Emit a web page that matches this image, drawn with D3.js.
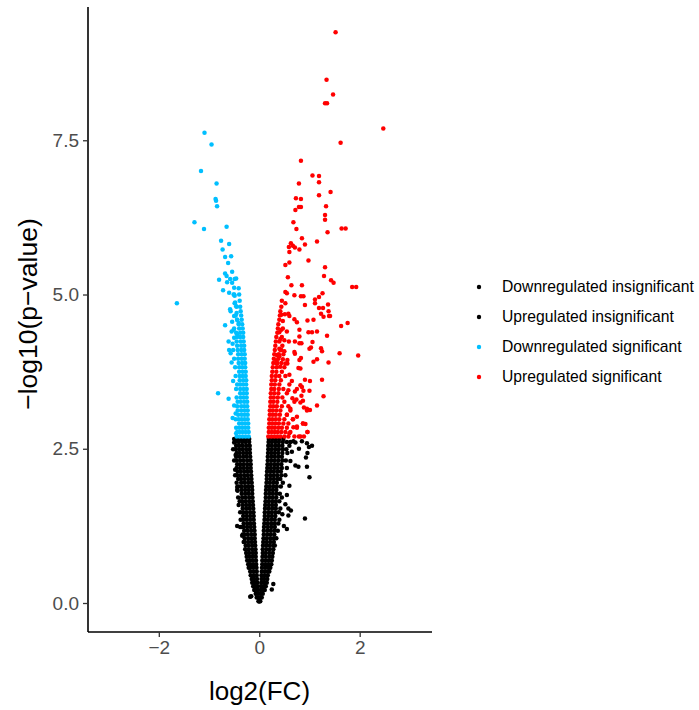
<!DOCTYPE html>
<html><head><meta charset="utf-8">
<script src="https://cdn.jsdelivr.net/npm/d3@7"></script>
<style>body{margin:0;background:#fff}svg{display:block}text{font-family:"Liberation Sans",Arial,sans-serif}</style>
</head><body><svg id="c" width="699" height="710"></svg>
<script>
const categories = ["Downregulated insignificant","Upregulated insignificant","Downregulated significant","Upregulated significant"];
const colors = ["#000000","#000000","#00BFFF","#FF0000"];
const xTicks = [-2,0,2];
const yTicks = [0,2.5,5,7.5];

// rows: [y, [x...]]
const downInsigRows = [
[0.03,[-0.015,-0.005]],[0.09,[-0.02,-0.05]],[0.15,[-0.025,-0.07]],[0.21,[-0.03,-0.08,-0.1]],
[0.27,[-0.035,-0.08,-0.12]],[0.33,[-0.04,-0.09,-0.14]],[0.39,[-0.045,-0.1,-0.15]],[0.45,[-0.05,-0.11,-0.17]],
[0.51,[-0.05,-0.11,-0.18]],[0.57,[-0.055,-0.12,-0.18,-0.21]],[0.63,[-0.06,-0.12,-0.18,-0.22]],[0.69,[-0.065,-0.13,-0.19,-0.24]],
[0.75,[-0.07,-0.13,-0.19,-0.25]],[0.81,[-0.07,-0.13,-0.2,-0.26]],[0.87,[-0.075,-0.14,-0.21,-0.28]],[0.93,[-0.08,-0.14,-0.21,-0.27]],
[0.99,[-0.085,-0.15,-0.22,-0.29,-0.31]],[1.05,[-0.09,-0.15,-0.22,-0.29]],[1.11,[-0.09,-0.16,-0.23,-0.3,-0.33]],[1.17,[-0.095,-0.16,-0.23,-0.3]],
[1.23,[-0.1,-0.17,-0.24,-0.31,-0.35]],[1.29,[-0.105,-0.17,-0.24,-0.31]],[1.35,[-0.11,-0.18,-0.25,-0.32,-0.37]],[1.41,[-0.11,-0.18,-0.25,-0.32]],
[1.47,[-0.115,-0.18,-0.25,-0.32,-0.38]],[1.53,[-0.12,-0.19,-0.26,-0.33]],[1.59,[-0.125,-0.19,-0.26,-0.33,-0.41]],[1.65,[-0.13,-0.2,-0.27,-0.34,-0.39]],
[1.71,[-0.135,-0.2,-0.27,-0.34,-0.42]],[1.77,[-0.14,-0.21,-0.28,-0.35]],[1.83,[-0.14,-0.21,-0.28,-0.35,-0.44]],[1.89,[-0.145,-0.21,-0.28,-0.35,-0.41]],
[1.95,[-0.15,-0.22,-0.29,-0.36,-0.45]],[2.01,[-0.155,-0.22,-0.29,-0.36,-0.42]],[2.07,[-0.16,-0.23,-0.3,-0.37,-0.44,-0.48]],[2.13,[-0.165,-0.23,-0.3,-0.37,-0.43]],
[2.19,[-0.17,-0.24,-0.31,-0.38,-0.45]],[2.25,[-0.17,-0.24,-0.31,-0.38,-0.44]],[2.31,[-0.175,-0.24,-0.31,-0.38,-0.45,-0.5]],[2.37,[-0.18,-0.25,-0.32,-0.39,-0.46]],
[2.43,[-0.185,-0.25,-0.32,-0.39,-0.45]],[2.49,[-0.19,-0.26,-0.33,-0.4,-0.47,-0.52]],[2.55,[-0.19,-0.26,-0.33,-0.4,-0.46]],[2.61,[-0.2,-0.27,-0.34,-0.41,-0.48]],
[2.66,[-0.2,-0.26,-0.32,-0.38,-0.44,-0.5]]
];
const downInsigExtra = [[-0.48,2.16],[-0.44,1.88],[-0.43,1.82],[-0.38,1.23],[-0.34,1.09],[-0.16,0.11],[-0.18,0.1],[-0.44,1.25],[-0.5,2.6],[-0.47,2.4]];

const upInsigRows = [
[0.03,[0.005,0.02]],[0.09,[0.02,0.05]],[0.15,[0.025,0.07]],[0.21,[0.03,0.08,0.11]],
[0.27,[0.035,0.09,0.13]],[0.33,[0.04,0.1,0.15]],[0.39,[0.045,0.1,0.16]],[0.45,[0.045,0.11,0.17]],
[0.51,[0.05,0.11,0.17,0.2]],[0.57,[0.055,0.12,0.18,0.22]],[0.63,[0.06,0.12,0.18,0.24]],[0.69,[0.06,0.13,0.19,0.25]],
[0.75,[0.065,0.13,0.2,0.26]],[0.81,[0.07,0.13,0.2,0.27]],[0.87,[0.07,0.14,0.21,0.28]],[0.93,[0.075,0.14,0.21,0.28,0.31]],
[0.99,[0.08,0.15,0.22,0.29]],[1.05,[0.085,0.15,0.22,0.29,0.34]],[1.11,[0.09,0.16,0.23,0.3]],[1.17,[0.09,0.16,0.23,0.3,0.37]],
[1.23,[0.095,0.17,0.24,0.31]],[1.29,[0.1,0.17,0.24,0.31,0.38]],[1.35,[0.105,0.17,0.24,0.31,0.4]],[1.41,[0.11,0.18,0.25,0.32]],
[1.47,[0.11,0.18,0.25,0.32,0.39]],[1.53,[0.115,0.19,0.26,0.33,0.42]],[1.59,[0.12,0.19,0.26,0.33]],[1.65,[0.125,0.19,0.26,0.33,0.4]],
[1.71,[0.13,0.2,0.27,0.34,0.45]],[1.77,[0.13,0.2,0.27,0.34,0.41]],[1.83,[0.135,0.2,0.27,0.34]],[1.89,[0.14,0.21,0.28,0.35,0.43]],
[1.95,[0.145,0.21,0.28,0.35,0.47]],[2.01,[0.15,0.22,0.29,0.36,0.42]],[2.07,[0.15,0.22,0.29,0.36,0.44,0.52]],[2.13,[0.155,0.22,0.29,0.36,0.43]],
[2.19,[0.16,0.23,0.3,0.37,0.45,0.55]],[2.25,[0.165,0.23,0.3,0.37,0.44]],[2.31,[0.17,0.24,0.31,0.38,0.46,0.53]],[2.37,[0.17,0.24,0.31,0.38,0.45]],
[2.43,[0.175,0.24,0.31,0.38,0.46,0.56]],[2.49,[0.18,0.25,0.32,0.39,0.47,0.54]],[2.55,[0.18,0.25,0.32,0.39,0.46,0.6]],[2.61,[0.185,0.25,0.32,0.39,0.47,0.55,0.62]],
[2.66,[0.19,0.26,0.33,0.4,0.48]]
];
const upInsigExtra = [[0.95,2.59],[0.99,2.53],[0.93,2.36],[0.96,2.43],[0.79,2.5],[1.05,2.55],[0.72,2.23],[0.78,2.21],[0.95,2.21],[1.0,2.04],
[0.91,1.37],[0.58,1.53],[0.63,1.5],[0.46,1.44],[0.58,1.42],[0.49,1.25],[0.55,1.2],[0.28,0.31],[0.25,0.22],[0.72,2.6],[0.65,2.45],
[0.62,2.3],[0.6,1.9],[0.55,1.75],[0.52,1.6],[0.68,2.62],[0.85,2.62]];

const downSigRows = [
[2.70,[-0.21,-0.27,-0.33,-0.39,-0.45]],[2.77,[-0.21,-0.27,-0.33,-0.39,-0.44]],[2.84,[-0.22,-0.28,-0.34,-0.4,-0.46]],[2.91,[-0.22,-0.28,-0.34,-0.4]],
[2.98,[-0.23,-0.29,-0.35,-0.41,-0.47]],[3.05,[-0.23,-0.29,-0.35,-0.42]],[3.12,[-0.23,-0.29,-0.36,-0.43]],[3.19,[-0.24,-0.3,-0.36,-0.44]],
[3.26,[-0.24,-0.3,-0.37,-0.43]],[3.33,[-0.25,-0.31,-0.37,-0.45]],[3.40,[-0.25,-0.31,-0.38]],[3.47,[-0.25,-0.31,-0.38,-0.46]],
[3.54,[-0.26,-0.32,-0.38,-0.44]],[3.61,[-0.26,-0.32,-0.39]],[3.68,[-0.27,-0.33,-0.39,-0.47]],[3.75,[-0.27,-0.33,-0.4]],
[3.82,[-0.28,-0.34,-0.4,-0.48]],[3.89,[-0.28,-0.34,-0.41]],[3.96,[-0.29,-0.35,-0.42,-0.5]],[4.03,[-0.29,-0.35,-0.42]],
[4.10,[-0.3,-0.36,-0.43,-0.52]],[4.17,[-0.3,-0.36,-0.44]],[4.24,[-0.31,-0.37,-0.45]],[4.31,[-0.32,-0.38,-0.44]],
[4.38,[-0.32,-0.38,-0.46]],[4.45,[-0.33,-0.4,-0.5]],[4.52,[-0.34,-0.41]],[4.59,[-0.35,-0.44]],[4.66,[-0.36,-0.47]],
[4.73,[-0.37]],[4.80,[-0.38,-0.45]],[4.90,[-0.39]],[5.00,[-0.4,-0.5]],[5.10,[-0.41]]
];
const downSigExtra = [[-1.09,7.62],[-0.95,7.43],[-1.16,7.0],[-0.85,6.8],[-0.87,6.55],[-0.86,6.52],[-0.84,6.43],[-1.29,6.17],[-1.1,6.06],[-0.65,6.1],
[-0.76,5.87],[-0.6,5.82],[-0.73,5.73],[-0.68,5.61],[-0.56,5.62],[-0.62,5.51],[-0.68,5.34],[-0.54,5.37],[-0.65,5.3],[-0.8,5.24],[-0.58,5.25],
[-0.49,5.25],[-0.46,5.26],[-0.64,5.2],[-0.54,5.19],[-0.72,5.07],[-0.6,5.03],[-0.5,5.11],[-0.49,4.98],[-1.64,4.86],[-0.49,4.86],[-0.46,4.81],
[-0.57,4.73],[-0.45,4.7],[-0.5,4.65],[-0.44,4.59],[-0.54,4.56],[-0.68,4.5],[-0.41,4.54],[-0.61,4.24],[-0.6,4.1],[-0.57,4.05],[-0.82,3.4],
[-0.61,3.31],[-0.47,3.07],[-0.46,2.75],[-0.51,5.0],[-0.58,4.76],[-0.48,4.87],[-0.51,4.43],[-0.44,4.35],[-0.55,4.4],[-0.53,4.2],[-0.5,4.3],
[-0.55,3.9],[-0.52,3.6],[-0.5,3.2],[-0.53,3.0]];

const upSigRows = [
[2.70,[0.18,0.24,0.3,0.36,0.42,0.5,0.58,0.7,0.82]],[2.77,[0.19,0.25,0.31,0.37,0.44,0.52,0.62,0.96]],[2.84,[0.19,0.25,0.31,0.38,0.45,0.55,0.75]],
[2.91,[0.2,0.26,0.32,0.39,0.48,0.58,0.87]],[2.98,[0.2,0.26,0.33,0.4,0.5,0.67]],[3.05,[0.21,0.27,0.33,0.41,0.55]],[3.12,[0.21,0.27,0.34,0.42,0.62,0.95]],
[3.19,[0.22,0.28,0.35,0.45,0.58]],[3.26,[0.22,0.28,0.36,0.5,0.7]],[3.33,[0.23,0.29,0.37,0.46]],[3.40,[0.23,0.3,0.38,0.55]],[3.47,[0.24,0.3,0.39,0.48]],
[3.54,[0.24,0.31,0.4,0.6]],[3.61,[0.25,0.32,0.43]],[3.68,[0.25,0.33,0.4,0.52]],[3.75,[0.26,0.34,0.45]],[3.82,[0.27,0.35,0.5]],[3.89,[0.28,0.36,0.44]],
[3.96,[0.29,0.38]],[4.03,[0.3,0.39,0.48]],[4.10,[0.31,0.42]],[4.17,[0.32,0.46]],[4.24,[0.33,0.4]],[4.31,[0.34,0.45]],[4.38,[0.36]],[4.45,[0.37,0.47]],
[4.52,[0.38]],[4.59,[0.4]],[4.66,[0.41]],[4.73,[0.42]],[4.80,[0.44]],[4.90,[0.45]]
];
const upSigExtra = [[1.52,9.25],[1.34,8.48],[1.47,8.24],[1.31,8.1],[1.35,8.1],[2.47,7.69],[1.62,7.46],[0.83,7.17],[1.06,6.93],[1.19,6.92],[1.19,6.82],
[0.79,6.8],[1.42,6.66],[1.19,6.61],[0.73,6.56],[0.83,6.55],[1.33,6.43],[0.79,6.42],[0.83,6.42],[0.72,6.37],[1.31,6.29],[1.31,6.21],[0.68,6.17],
[0.74,6.06],[1.36,6.01],[1.64,6.07],[1.72,6.07],[0.85,5.91],[1.15,5.86],[0.91,5.81],[0.63,5.83],[0.67,5.79],[0.59,5.77],[0.71,5.76],[0.8,5.73],
[0.6,5.69],[0.98,5.55],[0.52,5.48],[0.6,5.52],[1.31,5.44],[1.29,5.3],[0.57,5.28],[1.43,5.23],[1.48,5.19],[0.64,5.15],[0.85,5.15],[1.85,5.12],
[1.93,5.12],[0.52,5.04],[0.55,5.02],[0.7,4.99],[0.83,4.97],[0.88,4.97],[1.26,5.02],[1.19,4.96],[1.11,4.92],[1.11,4.86],[1.37,4.84],[0.52,4.86],
[0.91,4.83],[1.27,4.78],[1.19,4.78],[1.38,4.73],[1.23,4.69],[1.39,4.65],[1.41,4.65],[0.44,4.67],[0.51,4.68],[0.58,4.69],[0.6,4.65],[1.28,4.64],
[0.7,4.6],[0.75,4.55],[0.96,4.58],[1.08,4.59],[0.47,4.57],[1.76,4.54],[1.63,4.49],[0.44,4.43],[0.4,4.39],[0.55,4.4],[0.8,4.43],[0.98,4.39],
[1.05,4.39],[1.15,4.4],[1.35,4.33],[0.8,4.32],[0.42,4.28],[0.5,4.26],[0.59,4.24],[0.71,4.24],[0.8,4.21],[0.84,4.21],[1.06,4.23],[0.4,4.12],
[0.44,4.1],[0.5,4.08],[1.0,4.12],[1.03,4.14],[1.23,4.13],[1.25,4.08],[0.7,4.07],[0.71,4.04],[1.6,4.05],[1.97,4.01],[0.35,4.02],[0.34,3.93],
[0.4,4.0],[0.47,3.95],[0.52,3.88],[0.35,3.88],[0.42,3.83],[0.56,3.94],[0.56,3.88],[0.83,3.97],[0.8,3.94],[0.82,3.8],[0.78,3.81],[1.15,3.95],
[1.08,3.91],[1.38,3.9],[0.91,3.62],[1.01,3.6],[1.25,3.62],[0.82,3.53],[0.75,3.47],[0.85,3.5],[0.71,3.43],[0.88,3.44],[1.0,3.44],[1.28,3.35],
[0.66,3.32],[0.74,3.3],[0.84,3.36],[0.87,3.28],[0.82,3.25],[1.15,3.2],[0.95,3.15],[1.01,3.13],[0.89,3.17],[0.75,3.02],[0.67,2.98],[0.87,2.91],
[0.92,2.9],[0.75,2.86],[0.96,2.77],[0.89,2.7],[0.79,2.7],[0.6,3.7],[0.65,3.6],[0.58,3.45],[0.62,3.15],[0.55,3.05],[0.68,2.85],[0.6,2.75]];

function expand(rows, extra){
  const out = [];
  rows.forEach(([y, xs]) => xs.forEach(x => out.push([x, y])));
  extra.forEach(p => out.push(p));
  return out;
}
const groups = [
  expand(downInsigRows, downInsigExtra),
  expand(upInsigRows, upInsigExtra),
  expand(downSigRows, downSigExtra),
  expand(upSigRows, upSigExtra)
];

const svg = d3.select("#c");
const L = 88, R = 432, T = 7, B = 632;
const x = d3.scaleLinear().domain([-3.41, 3.44]).range([L, R]);
const y = d3.scaleLinear().domain([-0.47, 9.66]).range([B, T]);

// points
groups.forEach((pts, i) => {
  svg.append("g").selectAll("circle").data(pts).join("circle")
    .attr("cx", d => x(d[0])).attr("cy", d => y(d[1])).attr("r", 2.25)
    .attr("fill", colors[i]);
});

// axes
const fmtY = d3.format(".1f");
const minus = s => s.replace("-", "\u2212");
const xAxis = svg.append("g").attr("transform", `translate(0,${B})`)
  .call(d3.axisBottom(x).tickValues(xTicks).tickSize(5).tickPadding(4).tickFormat(d => minus(String(d))));
const yAxis = svg.append("g").attr("transform", `translate(${L},0)`)
  .call(d3.axisLeft(y).tickValues(yTicks).tickSize(5).tickPadding(4).tickFormat(d => fmtY(d)));
[xAxis, yAxis].forEach(a => {
  a.select(".domain").attr("stroke", "#000").attr("stroke-width", 1.6);
  a.selectAll(".tick line").attr("stroke", "#333").attr("stroke-width", 1.3);
  a.selectAll(".tick text").attr("fill", "#4D4D4D").style("font-size", "19px").style("font-family", "'Liberation Sans', Arial, sans-serif");
});
xAxis.select(".domain").attr("d", `M${L},0H${R}`);
yAxis.select(".domain").attr("d", `M0,${T}V${B}`);

// titles
svg.append("text").attr("x", 259.5).attr("y", 700).attr("text-anchor", "middle")
  .style("font-size", "26px").attr("fill", "#000").text("log2(FC)");
svg.append("text").attr("transform", "translate(37,314) rotate(-90)").attr("text-anchor", "middle")
  .style("font-size", "26.5px").attr("fill", "#000").text("\u2212log10(p\u2212value)");

// legend
const lg = svg.append("g");
categories.forEach((c, i) => {
  const cy = 287 + i * 30;
  lg.append("circle").attr("cx", 479).attr("cy", cy).attr("r", 2.2).attr("fill", colors[i]);
  lg.append("text").attr("x", 502).attr("y", cy).attr("dy", "0.35em")
    .style("font-size", "15.7px").attr("fill", "#000").text(c);
});
</script></body></html>
